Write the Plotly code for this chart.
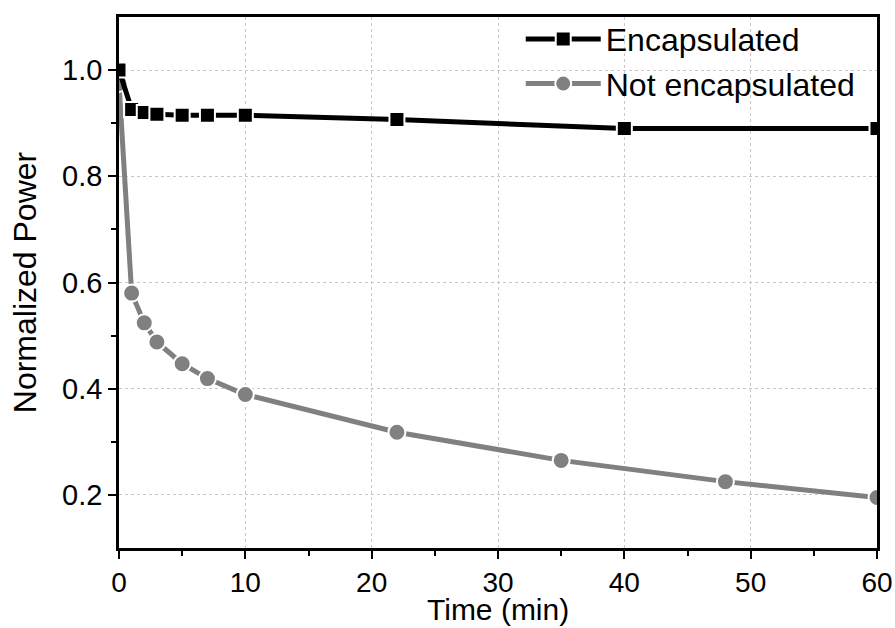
import plotly.graph_objects as go

# Elapsed time (min) and normalized output power for each device
time_enc = [0, 1, 2, 3, 5, 7, 10, 22, 40, 60]
power_enc = [1.0, 0.926, 0.920, 0.917, 0.915, 0.915, 0.915, 0.907, 0.890, 0.890]

time_bare = [0, 1, 2, 3, 5, 7, 10, 22, 35, 48, 60]
power_bare = [0.975, 0.580, 0.524, 0.488, 0.447, 0.419, 0.389, 0.318, 0.265, 0.225, 0.195]

y_ticks = [0.2, 0.4, 0.6, 0.8, 1.0]
x_ticks = [0, 10, 20, 30, 40, 50, 60]

FONT = "Liberation Sans, Arial, sans-serif"

fig = go.Figure()

fig.add_trace(go.Scatter(
    x=time_bare, y=power_bare, name="Not encapsulated", mode="lines+markers",
    line=dict(color="#808080", width=5),
    marker=dict(symbol="circle", size=17, color="#808080",
                line=dict(color="white", width=2)),
))
fig.add_trace(go.Scatter(
    x=time_enc, y=power_enc, name="Encapsulated", mode="lines+markers",
    line=dict(color="black", width=5),
    marker=dict(symbol="square", size=15, color="black",
                line=dict(color="white", width=2)),
))

axis_common = dict(
    showline=True, linecolor="black", linewidth=2.5, mirror=True,
    ticks="outside", ticklen=8, tickwidth=2, tickcolor="black",
    showgrid=True, gridcolor="#c8c8c8", griddash="dot", gridwidth=1,
    zeroline=False, automargin=False,
    title_font=dict(family=FONT, size=32, color="black"),
)

fig.update_xaxes(
    range=[0, 60], tickvals=x_ticks,
    tickfont=dict(family=FONT, size=28, color="black"),
    minor=dict(ticks="outside", ticklen=5, tickwidth=2, dtick=5, tickcolor="black", showgrid=False),
    **axis_common,
)
fig.update_yaxes(
    range=[0.1, 1.1], tickvals=y_ticks, tickformat=".1f",
    tickfont=dict(family=FONT, size=29, color="black"),
    title_text="Normalized Power", title_standoff=16,
    minor=dict(ticks="outside", ticklen=5, tickwidth=2, tickvals=[0.3, 0.5, 0.7, 0.9],
               tickcolor="black", showgrid=False),
    **axis_common,
)

# x-axis title placed just beneath the tick labels
fig.add_annotation(
    text="Time (min)", xref="paper", yref="paper", x=0.5, y=-0.116,
    xanchor="center", yanchor="middle", showarrow=False,
    font=dict(family=FONT, size=30, color="black"),
)

fig.update_layout(
    width=895, height=628,
    margin=dict(l=119, r=18, t=14, b=80),
    plot_bgcolor="white", paper_bgcolor="white",
    legend=dict(
        x=0.53, y=1.01, xanchor="left", yanchor="top",
        traceorder="reversed",
        font=dict(family=FONT, size=32, color="black"),
        bgcolor="rgba(0,0,0,0)", itemwidth=75, tracegroupgap=0,
    ),
    showlegend=True,
)

fig.write_html("out.html")
